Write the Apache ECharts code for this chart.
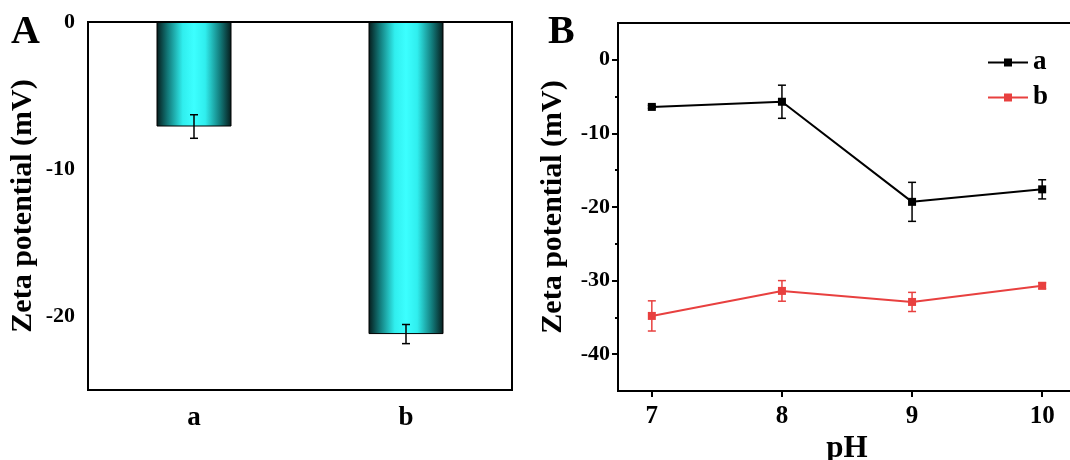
<!DOCTYPE html>
<html>
<head>
<meta charset="utf-8">
<script src="https://cdn.jsdelivr.net/npm/echarts@6/dist/echarts.min.js"></script>
<style>
html,body{margin:0;padding:0;background:#fff;}
#chart{width:1070px;height:460px;}
</style>
</head>
<body>
<div id="chart"></div>
<script>
// ---- Panel A data ----
var barCats = ['a', 'b'];
var barVals = [-7.1, -21.2];
var barErr = [0.8, 0.65];
var aYLabels = [0, -10, -20];
var aYMinor = [-5, -15];

// ---- Panel B data ----
var phVals = [7, 8, 9, 10];
var seriesAVals = [-6.4, -5.7, -19.3, -17.6];
var seriesAErr = [0.2, 2.25, 2.65, 1.3];
var seriesBVals = [-34.8, -31.4, -32.9, -30.7];
var seriesBErr = [2.05, 1.4, 1.3, 0.4];
var bYLabels = [0, -10, -20, -30, -40];
var bYMinor = [-5, -15, -25, -35];
var bXLabels = [7, 8, 9, 10];

var FONT = "'Liberation Serif', 'Times New Roman', serif";
var RED = '#e8403f';

function errItem(color, cap) {
  return function (params, api) {
    var x = api.value(0), y = api.value(1), e = api.value(2);
    var hi = api.coord([x, y + e]);
    var lo = api.coord([x, y - e]);
    var st = {stroke: color, lineWidth: 1.5};
    return {
      type: 'group',
      children: [
        {type: 'line', shape: {x1: hi[0], y1: hi[1], x2: lo[0], y2: lo[1]}, style: st},
        {type: 'line', shape: {x1: hi[0] - cap, y1: hi[1], x2: hi[0] + cap, y2: hi[1]}, style: st},
        {type: 'line', shape: {x1: lo[0] - cap, y1: lo[1], x2: lo[0] + cap, y2: lo[1]}, style: st}
      ]
    };
  };
}

var axisLineStyle = {color: '#000', width: 2};

var chart = echarts.init(document.getElementById('chart'));
var option = {
  animation: false,
  backgroundColor: '#fff',
  textStyle: {fontFamily: FONT},
  graphic: [
    {type: 'text', left: 11, top: 13, style: {text: 'A', font: 'bold 40px ' + FONT, fill: '#000'}},
    {type: 'text', left: 548, top: 13, style: {text: 'B', font: 'bold 40px ' + FONT, fill: '#000'}}
  ],
  legend: {
    data: ['a', 'b'],
    orient: 'vertical',
    left: 982,
    top: 44,
    itemWidth: 40,
    itemHeight: 10,
    itemGap: 8,
    textStyle: {fontFamily: FONT, fontWeight: 'bold', fontSize: 27, color: '#000'}
  },
  grid: [
    {left: 88, top: 22, width: 424, height: 368, show: true, borderColor: '#000', borderWidth: 2, containLabel: false, outerBoundsMode: 'none'},
    {left: 618, top: 23, width: 458, height: 368, show: true, borderColor: '#000', borderWidth: 2, containLabel: false, outerBoundsMode: 'none'}
  ],
  xAxis: [
    {
      gridIndex: 0, type: 'category', data: barCats,
      axisLine: {lineStyle: axisLineStyle},
      axisTick: {alignWithLabel: true, length: 6, lineStyle: {color: '#000', width: 2}},
      axisLabel: {color: '#000', fontFamily: FONT, fontWeight: 'bold', fontSize: 27, margin: 15},
      splitLine: {show: false}
    },
    {
      gridIndex: 1, type: 'value', min: 6.74, max: 10.26,
      name: 'pH', nameLocation: 'middle', nameGap: 37,
      nameTextStyle: {color: '#000', fontFamily: FONT, fontWeight: 'bold', fontSize: 31},
      axisLine: {onZero: false, lineStyle: axisLineStyle},
      axisTick: {customValues: bXLabels, length: 6, lineStyle: {color: '#000', width: 2}},
      axisLabel: {customValues: bXLabels, color: '#000', fontFamily: FONT, fontWeight: 'bold', fontSize: 25, margin: 13},
      splitLine: {show: false}
    }
  ],
  yAxis: [
    {
      gridIndex: 0, type: 'value', min: -25, max: 0,
      name: 'Zeta potential (mV)', nameLocation: 'middle', nameGap: 50,
      nameTextStyle: {color: '#000', fontFamily: FONT, fontWeight: 'bold', fontSize: 30},
      axisLine: {lineStyle: axisLineStyle},
      axisTick: {customValues: aYLabels, length: 6, lineStyle: {color: '#000', width: 2}},
      axisLabel: {customValues: aYLabels, color: '#000', fontFamily: FONT, fontWeight: 'bold', fontSize: 22, margin: 13},
      splitLine: {show: false}
    },
    {
      gridIndex: 0, type: 'value', min: -25, max: 0, position: 'left',
      axisLine: {show: false},
      axisTick: {customValues: aYMinor, length: 3, lineStyle: {color: '#000', width: 2}},
      axisLabel: {show: false},
      splitLine: {show: false}
    },
    {
      gridIndex: 1, type: 'value', min: -45, max: 5,
      name: 'Zeta potential (mV)', nameLocation: 'middle', nameGap: 50,
      nameTextStyle: {color: '#000', fontFamily: FONT, fontWeight: 'bold', fontSize: 30},
      axisLine: {onZero: false, lineStyle: axisLineStyle},
      axisTick: {customValues: bYLabels, length: 6, lineStyle: {color: '#000', width: 2}},
      axisLabel: {customValues: bYLabels, color: '#000', fontFamily: FONT, fontWeight: 'bold', fontSize: 22, margin: 8},
      splitLine: {show: false}
    },
    {
      gridIndex: 1, type: 'value', min: -45, max: 5, position: 'left',
      axisLine: {show: false},
      axisTick: {customValues: bYMinor, length: 3, lineStyle: {color: '#000', width: 2}},
      axisLabel: {show: false},
      splitLine: {show: false}
    }
  ],
  series: [
    {
      type: 'bar', xAxisIndex: 0, yAxisIndex: 0, data: barVals, barWidth: 75,
      itemStyle: {
        borderColor: '#000', borderWidth: 1,
        color: new echarts.graphic.LinearGradient(0, 0, 1, 0, [
          {offset: 0, color: '#061a1a'},
          {offset: 0.15, color: '#127a7a'},
          {offset: 0.35, color: '#30eeee'},
          {offset: 0.5, color: '#3cffff'},
          {offset: 0.65, color: '#30eeee'},
          {offset: 0.85, color: '#127a7a'},
          {offset: 1, color: '#061a1a'}
        ])
      }
    },
    {
      type: 'custom', xAxisIndex: 0, yAxisIndex: 0, z: 5,
      renderItem: errItem('#000', 4),
      encode: {x: 0, y: 1},
      data: barVals.map(function (v, i) { return [i, v, barErr[i]]; })
    },
    {
      name: 'a', type: 'line', xAxisIndex: 1, yAxisIndex: 2,
      data: phVals.map(function (p, i) { return [p, seriesAVals[i]]; }),
      symbol: 'rect', symbolSize: 8,
      lineStyle: {color: '#000', width: 2}, itemStyle: {color: '#000'}
    },
    {
      name: 'b', type: 'line', xAxisIndex: 1, yAxisIndex: 2,
      data: phVals.map(function (p, i) { return [p, seriesBVals[i]]; }),
      symbol: 'rect', symbolSize: 8,
      lineStyle: {color: RED, width: 2}, itemStyle: {color: RED}
    },
    {
      type: 'custom', xAxisIndex: 1, yAxisIndex: 2, z: 5,
      renderItem: errItem('#000', 4),
      encode: {x: 0, y: 1},
      data: phVals.map(function (p, i) { return [p, seriesAVals[i], seriesAErr[i]]; })
    },
    {
      type: 'custom', xAxisIndex: 1, yAxisIndex: 2, z: 5,
      renderItem: errItem(RED, 4),
      encode: {x: 0, y: 1},
      data: phVals.map(function (p, i) { return [p, seriesBVals[i], seriesBErr[i]]; })
    }
  ]
};
chart.setOption(option);
</script>
</body>
</html>
